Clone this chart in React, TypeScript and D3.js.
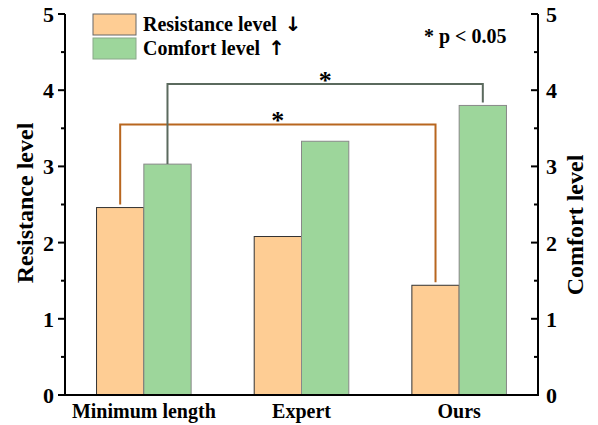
import { useEffect, useRef } from "react";
import * as d3 from "d3";

const categories = ["Minimum length", "Expert", "Ours"];
const resistance = [2.46, 2.08, 1.44];
const comfort = [3.03, 3.33, 3.8];
const yTicks = [0, 1, 2, 3, 4, 5];
const minorTicks = [0.5, 1.5, 2.5, 3.5, 4.5];

export default function App() {
  const svgRef = useRef<SVGSVGElement>(null);

  useEffect(() => {
    const svg = d3.select(svgRef.current);
    svg.selectAll("*").remove();

    const width = 598;
    const height = 425;
    const left = 65;
    const right = 538;
    const top = 14;
    const bottom = 395;
    const font = "'Liberation Serif', 'Times New Roman', serif";

    const x = d3
      .scaleBand<string>()
      .domain(categories)
      .range([left, right])
      .paddingInner(0.4)
      .paddingOuter(0.2);
    const sub = d3
      .scaleBand<string>()
      .domain(["r", "c"])
      .range([0, x.bandwidth()]);
    const yL = d3.scaleLinear().domain([0, 5]).range([bottom, top]);
    const yR = d3.scaleLinear().domain([0, 5]).range([bottom, top]);

    svg.append("rect").attr("width", width).attr("height", height).attr("fill", "#fff");

    // bars
    const g = svg.append("g");
    categories.forEach((c, i) => {
      g.append("rect")
        .attr("x", x(c)! + sub("r")!)
        .attr("y", yL(resistance[i]))
        .attr("width", sub.bandwidth())
        .attr("height", bottom - yL(resistance[i]))
        .attr("fill", "#fecd94")
        .attr("stroke", "#333")
        .attr("stroke-width", 1);
      g.append("rect")
        .attr("x", x(c)! + sub("c")!)
        .attr("y", yR(comfort[i]))
        .attr("width", sub.bandwidth())
        .attr("height", bottom - yR(comfort[i]))
        .attr("fill", "#9dd69b")
        .attr("stroke", "#888")
        .attr("stroke-width", 1);
    });

    // significance brackets
    const bracket = (
      x1: number,
      yb1: number,
      x2: number,
      yb2: number,
      level: number,
      color: string
    ) => {
      const yy = yL(level);
      svg
        .append("path")
        .attr("d", `M${x1},${yb1 - 3}V${yy}H${x2}V${yb2 - 3}`)
        .attr("fill", "none")
        .attr("stroke", color)
        .attr("stroke-width", 2);
      svg
        .append("text")
        .attr("x", (x1 + x2) / 2)
        .attr("y", yy + 5)
        .attr("text-anchor", "middle")
        .attr("font-family", font)
        .attr("font-weight", "bold")
        .attr("font-size", 26)
        .text("*");
    };
    const cOrange = (i: number) => x(categories[i])! + sub("r")! + sub.bandwidth() / 2;
    const cGreen = (i: number) => x(categories[i])! + sub("c")! + sub.bandwidth() / 2;
    bracket(cOrange(0), yL(resistance[0]), cOrange(2), yL(resistance[2]), 3.55, "#b8661f");
    bracket(cGreen(0), yR(comfort[0]) + 3, cGreen(2), yR(comfort[2]), 4.08, "#5b6a5e");

    // axes
    svg
      .append("path")
      .attr("d", `M${left},${top}V${bottom}H${right}V${top}`)
      .attr("fill", "none")
      .attr("stroke", "#000")
      .attr("stroke-width", 2);

    const ticks = svg.append("g").attr("stroke", "#000").attr("stroke-width", 2);
    yTicks.forEach((t) => {
      ticks.append("line").attr("x1", left - 7).attr("x2", left).attr("y1", yL(t)).attr("y2", yL(t));
      ticks.append("line").attr("x1", right - 7).attr("x2", right).attr("y1", yR(t)).attr("y2", yR(t));
    });
    minorTicks.forEach((t) => {
      ticks.append("line").attr("x1", left - 4).attr("x2", left).attr("y1", yL(t)).attr("y2", yL(t));
      ticks.append("line").attr("x1", right - 4).attr("x2", right).attr("y1", yR(t)).attr("y2", yR(t));
    });

    const labelStyle = (s: d3.Selection<SVGTextElement, unknown, null, undefined>, size: number) =>
      s.attr("font-family", font).attr("font-weight", "bold").attr("font-size", size).attr("fill", "#000");

    yTicks.forEach((t) => {
      labelStyle(svg.append("text"), 22)
        .attr("x", left - 11)
        .attr("y", yL(t) + 8)
        .attr("text-anchor", "end")
        .text(t);
      labelStyle(svg.append("text"), 22)
        .attr("x", right + 8)
        .attr("y", yR(t) + 8)
        .attr("text-anchor", "start")
        .text(t);
    });

    categories.forEach((c) => {
      labelStyle(svg.append("text"), 20)
        .attr("x", x(c)! + x.bandwidth() / 2)
        .attr("y", 418)
        .attr("text-anchor", "middle")
        .text(c);
    });

    labelStyle(svg.append("text"), 24)
      .attr("transform", `translate(33,203) rotate(-90)`)
      .attr("text-anchor", "middle")
      .text("Resistance level");
    labelStyle(svg.append("text"), 24)
      .attr("transform", `translate(583,225) rotate(-90)`)
      .attr("text-anchor", "middle")
      .text("Comfort level");

    // legend
    const legend = svg.append("g").attr("transform", "translate(93,14)");
    const items = [
      { label: "Resistance level", arrow: "\u2193", fill: "#fecd94", stroke: "#666" },
      { label: "Comfort level", arrow: "\u2191", fill: "#9dd69b", stroke: "#8aa88a" },
    ];
    items.forEach((d, i) => {
      const row = legend.append("g").attr("transform", `translate(0,${i * 24})`);
      row.append("rect")
        .attr("width", 43)
        .attr("height", 21)
        .attr("fill", d.fill)
        .attr("stroke", d.stroke)
        .attr("stroke-width", 1);
      const t = labelStyle(row.append("text"), 20).attr("x", 50).attr("y", 17);
      t.append("tspan").text(d.label);
      t.append("tspan")
        .attr("dx", 8)
        .attr("font-family", "'DejaVu Sans', sans-serif")
        .attr("font-size", 20)
        .text(d.arrow);
    });

    labelStyle(svg.append("text"), 20)
      .attr("x", 424)
      .attr("y", 43)
      .text("* p < 0.05");
  }, []);

  return (
    <svg
      ref={svgRef}
      width={598}
      height={425}
      style={{ display: "block", position: "absolute", left: 0, top: 0 }}
    />
  );
}
